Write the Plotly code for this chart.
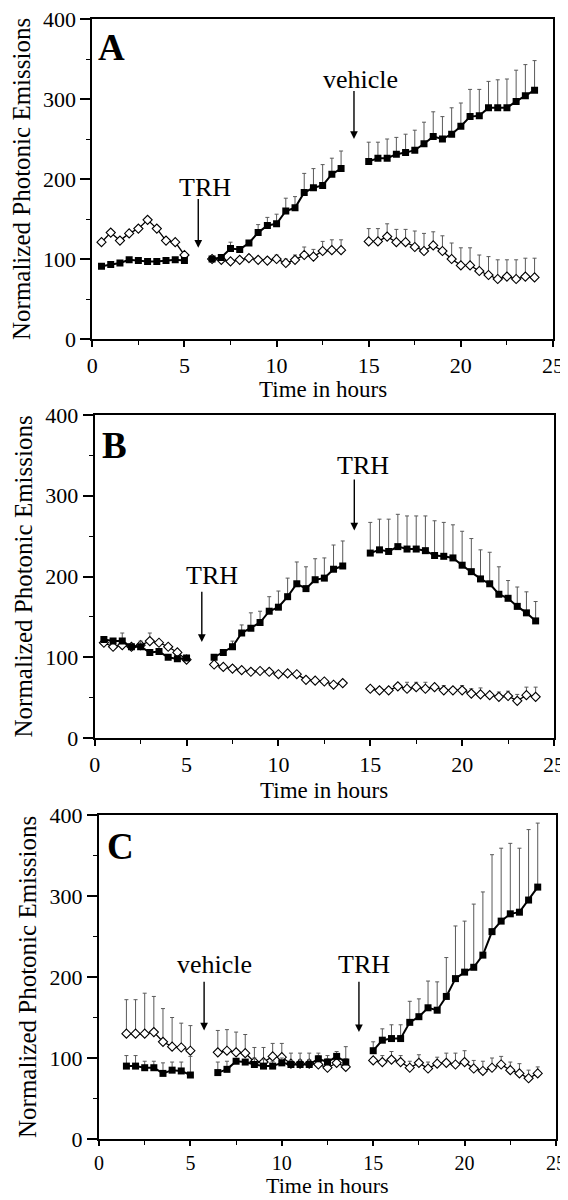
import plotly.graph_objects as go

# ---------------- data ----------------
hours_s1 = [0.5, 1, 1.5, 2, 2.5, 3, 3.5, 4, 4.5, 5]
hours_c1 = [1.5, 2, 2.5, 3, 3.5, 4, 4.5, 5]
hours_s2 = [6.5, 7, 7.5, 8, 8.5, 9, 9.5, 10, 10.5, 11, 11.5, 12, 12.5, 13, 13.5]
hours_s3 = [15, 15.5, 16, 16.5, 17, 17.5, 18, 18.5, 19, 19.5, 20, 20.5, 21, 21.5, 22, 22.5, 23, 23.5, 24]

# Panel A
a_fill_1 = [91, 93, 95, 99, 98, 97, 97, 98, 99, 98]
a_fill_1_err = [0, 0, 0, 0, 0, 0, 0, 0, 0, 0]
a_fill_2 = [100, 102, 113, 112, 120, 133, 142, 144, 160, 164, 183, 189, 192, 206, 213]
a_fill_2_err = [0, 0, 8, 0, 3, 10, 10, 12, 16, 14, 24, 24, 26, 20, 22]
a_fill_3 = [222, 226, 226, 231, 233, 236, 244, 253, 250, 256, 266, 278, 279, 289, 289, 289, 297, 304, 311]
a_fill_3_err = [24, 20, 24, 21, 23, 25, 27, 31, 28, 33, 29, 34, 33, 33, 35, 36, 39, 39, 37]
a_open_1 = [121, 133, 123, 132, 138, 149, 138, 123, 121, 105]
a_open_1_err = [0, 0, 0, 0, 0, 0, 0, 0, 0, 0]
a_open_2 = [100, 99, 97, 99, 101, 99, 98, 100, 95, 99, 105, 103, 110, 111, 111]
a_open_2_err = [0, 0, 0, 0, 4, 3, 4, 5, 5, 6, 10, 9, 12, 13, 13]
a_open_3 = [122, 122, 128, 121, 121, 115, 110, 117, 110, 100, 92, 92, 85, 80, 75, 78, 75, 78, 77]
a_open_3_err = [16, 16, 16, 16, 16, 20, 22, 17, 19, 20, 22, 22, 20, 23, 24, 21, 24, 23, 24]

# Panel B
b_fill_1 = [122, 120, 120, 113, 113, 106, 107, 100, 98, 99]
b_fill_1_err = [0, 0, 10, 0, 7, 0, 0, 0, 0, 0]
b_fill_2 = [100, 106, 113, 130, 136, 143, 157, 162, 175, 191, 185, 196, 198, 209, 213]
b_fill_2_err = [0, 0, 7, 10, 19, 14, 18, 20, 23, 27, 27, 26, 25, 30, 31]
b_fill_3 = [229, 233, 231, 237, 234, 234, 232, 226, 225, 223, 214, 206, 197, 191, 178, 173, 163, 155, 145]
b_fill_3_err = [38, 38, 40, 40, 41, 41, 43, 43, 42, 41, 42, 41, 36, 39, 34, 22, 24, 26, 24]
b_open_1 = [118, 113, 115, 113, 115, 120, 118, 113, 106, 97]
b_open_1_err = [0, 0, 0, 0, 0, 10, 0, 0, 0, 0]
b_open_2 = [91, 88, 86, 84, 82, 83, 82, 79, 80, 79, 72, 71, 70, 66, 68]
b_open_2_err = [0, 0, 0, 0, 0, 0, 0, 0, 0, 0, 0, 0, 0, 0, 0]
b_open_3 = [61, 59, 59, 64, 61, 63, 61, 63, 59, 59, 59, 55, 54, 53, 51, 52, 46, 53, 51]
b_open_3_err = [0, 0, 0, 0, 8, 6, 8, 0, 6, 0, 6, 6, 8, 0, 6, 6, 8, 10, 12]

# Panel C
c_fill_1 = [90, 90, 88, 88, 81, 85, 84, 79]
c_fill_1_err = [13, 13, 8, 8, 13, 10, 11, 23]
c_fill_2 = [82, 86, 96, 95, 92, 90, 90, 94, 92, 92, 92, 99, 95, 102, 95]
c_fill_2_err = [13, 10, 0, 0, 8, 8, 6, 6, 5, 6, 6, 4, 4, 6, 19]
c_fill_3 = [109, 122, 124, 124, 144, 151, 162, 159, 176, 198, 206, 212, 227, 256, 269, 278, 280, 295, 311]
c_fill_3_err = [11, 14, 17, 17, 26, 22, 33, 35, 48, 65, 63, 78, 78, 95, 90, 87, 79, 87, 79]
c_open_1 = [130, 130, 130, 132, 120, 114, 113, 109]
c_open_1_err = [42, 42, 50, 44, 41, 36, 30, 31]
c_open_2 = [107, 109, 107, 106, 95, 95, 102, 101, 93, 93, 93, 92, 88, 94, 89]
c_open_2_err = [27, 26, 25, 23, 18, 18, 16, 17, 13, 13, 13, 14, 15, 8, 10]
c_open_3 = [97, 95, 98, 95, 88, 94, 87, 93, 94, 92, 95, 87, 84, 88, 92, 85, 81, 75, 81]
c_open_3_err = [0, 8, 10, 8, 8, 10, 8, 8, 12, 14, 14, 10, 12, 12, 10, 10, 12, 10, 8]

x_ticks = [0, 5, 10, 15, 20, 25]
y_ticks = [0, 100, 200, 300, 400]
panel_letters = ["A", "B", "C"]

# ---------------- helpers ----------------
def join(*segs, sep=None):
    out = []
    for i, s in enumerate(segs):
        if i:
            out.append(sep)
        out.extend(s)
    return out

FONT = "Liberation Serif"
ERR_COLOR = "#5a5a5a"

# The page body has an 8px default margin; the figure is laid out in
# page pixels and converted to figure coordinates.
OFF = 8
W, H = 568 - OFF, 1200 - OFF

def px(xp):
    return (xp - OFF) / W

def py(yp):
    return 1 - (yp - OFF) / H

fig = go.Figure()

panels = [
    dict(xs1=hours_s1, open=(a_open_1, a_open_2, a_open_3), open_err=(a_open_1_err, a_open_2_err, a_open_3_err),
         fill=(a_fill_1, a_fill_2, a_fill_3), fill_err=(a_fill_1_err, a_fill_2_err, a_fill_3_err)),
    dict(xs1=hours_s1, open=(b_open_1, b_open_2, b_open_3), open_err=(b_open_1_err, b_open_2_err, b_open_3_err),
         fill=(b_fill_1, b_fill_2, b_fill_3), fill_err=(b_fill_1_err, b_fill_2_err, b_fill_3_err)),
    dict(xs1=hours_c1, open=(c_open_1, c_open_2, c_open_3), open_err=(c_open_1_err, c_open_2_err, c_open_3_err),
         fill=(c_fill_1, c_fill_2, c_fill_3), fill_err=(c_fill_1_err, c_fill_2_err, c_fill_3_err)),
]

for i, p in enumerate(panels):
    xa = "x" if i == 0 else f"x{i+1}"
    ya = "y" if i == 0 else f"y{i+1}"
    xs = join(p["xs1"], hours_s2, hours_s3)
    fig.add_trace(go.Scatter(
        x=xs, y=join(*p["open"]), xaxis=xa, yaxis=ya, mode="lines+markers",
        line=dict(color="black", width=1.3),
        marker=dict(symbol="diamond", size=7, color="white", line=dict(color="black", width=1.1)),
        error_y=dict(type="data", symmetric=False, array=join(*p["open_err"], sep=0),
                     arrayminus=[0] * len(xs), color=ERR_COLOR, thickness=1, width=2),
        showlegend=False, connectgaps=False))
    fig.add_trace(go.Scatter(
        x=xs, y=join(*p["fill"]), xaxis=xa, yaxis=ya, mode="lines+markers",
        line=dict(color="black", width=2),
        marker=dict(symbol="square", size=7, color="black"),
        error_y=dict(type="data", symmetric=False, array=join(*p["fill_err"], sep=0),
                     arrayminus=[0] * len(xs), color=ERR_COLOR, thickness=1, width=2),
        showlegend=False, connectgaps=False))

# ---------------- layout (page pixel positions) ----------------
x_dom = [(92.3, 553), (94.7, 554), (99, 556)]
y_dom = [(19, 339), (415, 738), (815, 1139)]

layout = dict(width=W, height=H, margin=dict(l=0, r=0, t=0, b=0, autoexpand=False),
              paper_bgcolor="white", plot_bgcolor="white",
              font=dict(family=FONT, color="black"), showlegend=False)

axis_common = dict(showline=True, linewidth=2, linecolor="black", mirror=True,
                   ticks="outside", ticklen=10, tickwidth=1.5, tickcolor="black",
                   showgrid=False, zeroline=False, automargin=False,
                   ticklabeloverflow="allow",
                   tickfont=dict(family=FONT, size=22, color="black"))

for i in range(3):
    xk = "xaxis" if i == 0 else f"xaxis{i+1}"
    yk = "yaxis" if i == 0 else f"yaxis{i+1}"
    ya = "y" if i == 0 else f"y{i+1}"
    xa = "x" if i == 0 else f"x{i+1}"
    layout[xk] = dict(axis_common, domain=[px(x_dom[i][0]), px(x_dom[i][1])], range=[0, 25],
                      tickvals=x_ticks, anchor=ya, ticklen=5 if i == 2 else 6,
                      tickfont=dict(family=FONT, size=20 if i == 2 else 22, color="black"),
                      minor=dict(dtick=2.5, ticklen=4, tickwidth=1, tickcolor="black", ticks="outside"))
    layout[yk] = dict(axis_common, domain=[py(y_dom[i][1]), py(y_dom[i][0])], range=[0, 400],
                      tickvals=y_ticks, anchor=xa,
                      minor=dict(dtick=50, ticklen=4, tickwidth=1, tickcolor="black", ticks="outside"))

fig.update_layout(**layout)

ann = []
y_title_x = [21, 23, 28]
x_title_y = [390, 790, None]
for i in range(3):
    ann.append(dict(xref="paper", yref="paper", x=px(y_title_x[i]), y=py((y_dom[i][0] + y_dom[i][1]) / 2),
                    text="Normalized Photonic Emissions", textangle=-90, showarrow=False,
                    font=dict(family=FONT, size=25), xanchor="center", yanchor="middle"))
    if x_title_y[i] is None:
        # bottom panel: title sits on the bottom edge of the page
        ann.append(dict(xref="paper", yref="paper", x=px((x_dom[i][0] + x_dom[i][1]) / 2), y=0,
                        text="Time in hours", showarrow=False,
                        font=dict(family=FONT, size=22), xanchor="center", yanchor="bottom"))
    else:
        ann.append(dict(xref="paper", yref="paper", x=px((x_dom[i][0] + x_dom[i][1]) / 2), y=py(x_title_y[i]),
                        text="Time in hours", showarrow=False,
                        font=dict(family=FONT, size=23), xanchor="center", yanchor="middle"))

letter_pos = [(1.05, 365), (1.1, 362), (1.2, 361)]
labels = [
    [("TRH", 6.1, 190, 5.75, 177, 114), ("vehicle", 14.55, 324, 14.2, 312, 250)],
    [("TRH", 6.4, 201, 5.83, 183, 119), ("TRH", 14.6, 337, 14.13, 322, 257)],
    [("vehicle", 6.3, 215, 5.75, 196, 134), ("TRH", 14.5, 215, 14.22, 196, 132)],
]
for i in range(3):
    xa = "x" if i == 0 else f"x{i+1}"
    ya = "y" if i == 0 else f"y{i+1}"
    ann.append(dict(xref=xa, yref=ya, x=letter_pos[i][0], y=letter_pos[i][1], text=f"<b>{panel_letters[i]}</b>",
                    showarrow=False, font=dict(family=FONT, size=37), xanchor="center", yanchor="middle"))
    for (txt, tx, ty, axx, ytop, ybot) in labels[i]:
        ann.append(dict(xref=xa, yref=ya, x=tx, y=ty, text=txt, showarrow=False,
                        font=dict(family=FONT, size=26), xanchor="center", yanchor="middle"))
        ann.append(dict(xref=xa, yref=ya, x=axx, y=ybot, ax=axx, ay=ytop, axref=xa, ayref=ya,
                        text="", showarrow=True, arrowhead=2, arrowsize=1.1, arrowwidth=1.4,
                        arrowcolor="black", standoff=0, startstandoff=0))

fig.update_layout(annotations=ann)
fig.write_html("out.html")
